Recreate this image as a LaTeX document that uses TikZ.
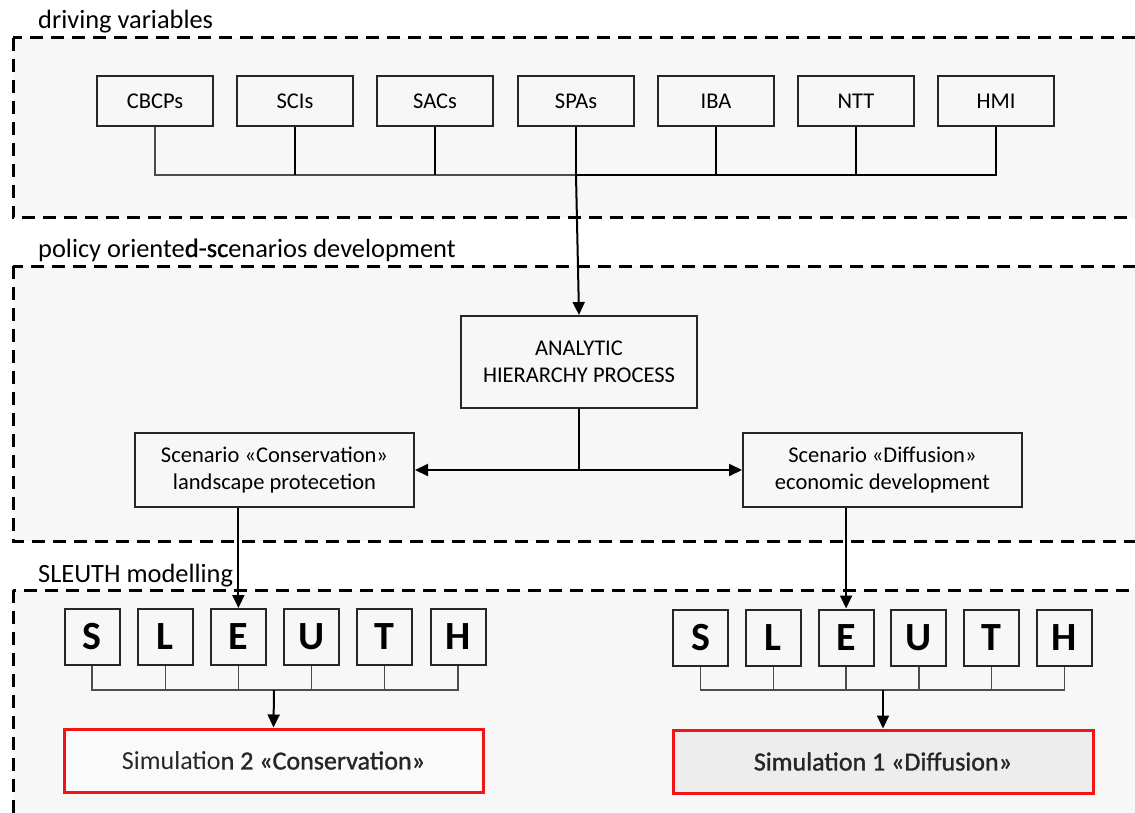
\documentclass[tikz,border=0pt]{standalone}
\usepackage{fontspec}
\setmainfont{Carlito}
\newfontfamily\medfont[FakeBold=1.2]{Carlito}
\usetikzlibrary{arrows.meta,shadows}
\definecolor{groupfill}{HTML}{F7F7F7}
\definecolor{simred}{HTML}{F01414}
\tikzset{
  group/.style={draw=black, line width=3pt, dash pattern=on 13pt off 8pt, fill=groupfill},
  grouplabel/.style={anchor=base west, inner sep=0pt, font=\fontsize{26.4}{30}\selectfont},
  varbox/.style={draw=black!85, line width=2pt, minimum width=116pt, minimum height=50pt, inner sep=0pt, font=\fontsize{22.5}{27}\selectfont},
  procbox/.style={draw=black!85, line width=2pt, inner sep=0pt, align=center, font=\fontsize{22.5}{27.5}\selectfont},
  letterbox/.style={draw=black!85, line width=2pt, minimum width=55pt, minimum height=56pt, inner sep=0pt, font=\fontsize{40}{40}\selectfont\bfseries},
  simbox/.style={draw=simred, line width=3pt, minimum width=419pt, minimum height=63pt, inner sep=0pt, font=\fontsize{26}{30}\selectfont, text=black!85,
    drop shadow={shadow xshift=2pt, shadow yshift=-2pt, opacity=0.25, fill=black!60}},
  conn/.style={draw=black, line width=2pt},
  thinconn/.style={draw=black!70, line width=1.3pt},
  arr/.style={conn, -{Triangle[length=13pt,width=12pt]}}
}
\begin{document}
\begin{tikzpicture}[x=1pt,y=-1pt]
\useasboundingbox (0,0) rectangle (1135,813);
\clip (0,0) rectangle (1135,813);
\fill[white] (0,0) rectangle (1135,813);
% groups
\path[group] (13,38) rectangle (1150,218);
\path[group] (13,266) rectangle (1150,541);
\path[group] (13,590) rectangle (1150,830);
\node[grouplabel] (lab1) at (38,29) {driving variables};
\node[grouplabel] (lab2) at (38,257) {policy oriente{\medfont d-sc}enarios development};
\node[grouplabel] (lab3) at (38,582) {SLEUTH modelling};
% driving variables
\node[varbox] (cb)  at (155,101) {CBCPs};
\node[varbox] (sci) at (295,101) {SCIs};
\node[varbox] (sac) at (435,101) {SACs};
\node[varbox] (spa) at (576,101) {SPAs};
\node[varbox] (iba) at (716,101) {IBA};
\node[varbox] (ntt) at (856,101) {NTT};
\node[varbox] (hmi) at (996,101) {HMI};
\coordinate (tbar) at (576,175);
\draw[thinconn] (cb.south) |- (tbar);
\draw[conn] (sci.south) -- (sci.south |- tbar);
\draw[conn] (sac.south) -- (sac.south |- tbar);
\draw[conn] (hmi.south) |- (tbar);
\draw[conn] (iba.south) -- (iba.south |- tbar);
\draw[conn] (ntt.south) -- (ntt.south |- tbar);
\draw[conn] (spa.south) -- (tbar);
% AHP
\node[procbox, minimum width=236pt, minimum height=92pt] (ahp) at (579,362) {ANALYTIC\\HIERARCHY PROCESS};
\draw[arr] (tbar) -- (ahp.north);
\node[procbox, minimum width=279pt, minimum height=74pt] (cons) at (274.5,470) {Scenario «Conservation»\\landscape protecetion};
\node[procbox, minimum width=279pt, minimum height=74pt] (diff) at (882.5,470) {Scenario «Diffusion»\\economic development};
\coordinate (split) at (579,470);
\draw[conn] (ahp.south) -- (split);
\draw[arr] (split) -- (cons.east);
\draw[arr] (split) -- (diff.west);
% SLEUTH
\foreach \l [count=\i from 0] in {S,L,E,U,T,H}{
  \node[letterbox] (l\l) at (92+73.2*\i,637) {\l};
  \node[letterbox] (r\l) at (700.5+72.8*\i,637.5) {\l};
}
\draw[arr] (lE.north |- cons.south) -- (lE.north);
\draw[arr] (rE.north |- diff.south) -- (rE.north);
\coordinate (lbar) at (274,690);
\coordinate (rbar) at (883,690);
\draw[thinconn] (lS.south) |- (lbar) -| (lH.south);
\foreach \l in {L,E,U,T}{\draw[thinconn] (l\l.south) -- (l\l.south |- lbar);}
\draw[thinconn] (rS.south) |- (rbar) -| (rH.south);
\foreach \l in {L,E,U,T}{\draw[thinconn] (r\l.south) -- (r\l.south |- rbar);}
\node[simbox, fill=white!98!black] (sim2) at (273.5,760.5) {Simulatio{\medfont n 2 «Conservation»}};
\node[simbox, fill=black!7, minimum width=420pt] (sim1) at (883,761.5) {\medfont Simulation 1 «Diffusion»};
\draw[arr] (lbar) -- (sim2.north);
\draw[arr] (rbar) -- (sim1.north);
\end{tikzpicture}
\end{document}
